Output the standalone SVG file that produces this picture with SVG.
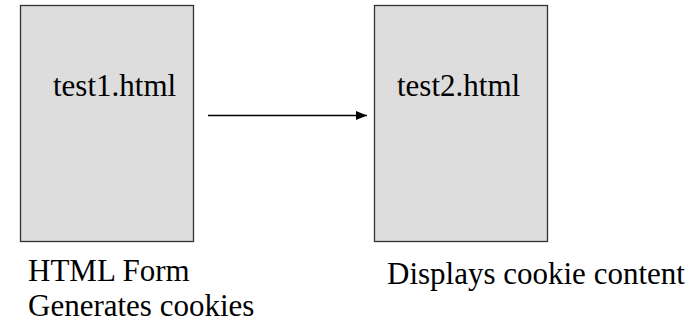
<svg xmlns="http://www.w3.org/2000/svg" width="696" height="323" viewBox="0 0 696 323">
<style>
.box{fill:#dddddd;stroke:#333333;stroke-width:1.3}
.t{font-size:31px;fill:#000}
.conn{stroke:#000;stroke-width:1.3;fill:none}
</style>
<defs>
<marker id="ah" markerWidth="12" markerHeight="10" refX="11" refY="5" orient="auto" markerUnits="userSpaceOnUse">
<polygon points="0,0.5 11,5 0,9.5" fill="#000"/>
</marker>
</defs>
<rect width="696" height="323" fill="#fff"/>
<g font-family="'Liberation Serif', 'Times New Roman', Times, serif">
<g id="node-test1">
<rect class="box" x="20.5" y="5.5" width="173" height="236"/>
<text class="t" x="53" y="96">test1.html</text>
</g>
<g id="node-test2">
<rect class="box" x="374.5" y="5.5" width="173" height="236"/>
<text class="t" x="397" y="96">test2.html</text>
</g>
<g id="label-left">
<text class="t" x="28" y="281">HTML Form</text>
<text class="t" x="28" y="316">Generates cookies</text>
</g>
<g id="label-right">
<text class="t" x="387" y="284">Displays cookie content</text>
</g>
</g>
<g id="connectors">
<line class="conn" x1="208" y1="115.5" x2="367" y2="115.5" marker-end="url(#ah)"/>
</g>
</svg>
